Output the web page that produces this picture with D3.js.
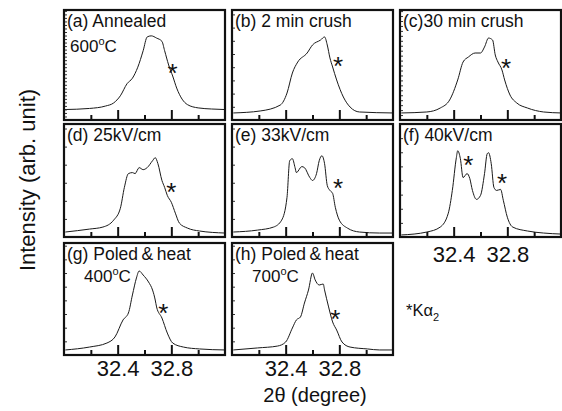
<!DOCTYPE html>
<html><head><meta charset="utf-8">
<script src="https://cdn.jsdelivr.net/npm/d3@7"></script>
<style>body{margin:0;background:#fff}svg{display:block}text{font-family:"Liberation Sans",Arial,sans-serif;fill:#111}</style>
</head><body><svg id="c" width="562" height="411"></svg>
<script>
// ---- data (2theta in degrees, intensity in arb. units 0-100 of panel height) ----
const xDomain = [32.0, 33.2];
const majorTicks = [32.4, 32.8];
const minorTicks = [32.2, 32.6, 33.0];
const panelLabels = ["(a) Annealed", "(b) 2 min crush", "(c)30 min crush", "(d) 25kV/cm", "(e) 33kV/cm", "(f) 40kV/cm", "(g) Poled\u2009&\u2009heat", "(h) Poled\u2009&\u2009heat"];
const panelSubLabels = ["600", null, null, null, null, null, "400", "700"];
const yTickStep = [3.2, 12, 4.5, 16, 16, 12.5, 12.2, 12.2];

const dataA = [[32.00,9.5],[32.19,10.5],[32.31,12.7],[32.37,15.5],[32.42,22],[32.47,33],[32.51,38],[32.55,48],[32.59,63],[32.62,75.5],[32.65,76.5],[32.69,74.5],[32.73,71.5],[32.75,63],[32.78,50],[32.81,40],[32.84,29],[32.88,19],[32.92,14],[33.00,11],[33.10,10],[33.20,9.5]];
const dataB = [[32.01,6.4],[32.21,8.2],[32.36,13.6],[32.41,24.5],[32.45,42.7],[32.49,52.7],[32.56,60.9],[32.60,68.2],[32.66,72.7],[32.69,75.5],[32.71,68.2],[32.73,56.4],[32.75,48.2],[32.78,36.4],[32.83,20.9],[32.88,11.8],[32.95,7.3],[33.20,6.4]];
const dataC = [[32.01,6.4],[32.20,7.3],[32.30,10.9],[32.37,18.2],[32.43,36.4],[32.47,52.7],[32.51,57.3],[32.56,60.9],[32.60,60.9],[32.63,66.4],[32.66,74.5],[32.69,72.7],[32.71,59.1],[32.73,52.7],[32.76,45.5],[32.78,36.4],[32.82,22.7],[32.87,15.5],[32.95,10.9],[33.07,7.3],[33.20,6.4]];
const dataD = [[32.01,4.4],[32.19,7.0],[32.29,8.8],[32.37,14.9],[32.42,25.4],[32.45,43.9],[32.48,56.1],[32.51,57.0],[32.53,56.1],[32.56,61.4],[32.59,59.6],[32.62,61.4],[32.66,67.5],[32.68,70.2],[32.70,64.9],[32.73,50.0],[32.75,43.9],[32.77,36.8],[32.80,30.7],[32.83,21.1],[32.86,12.3],[32.92,7.9],[33.01,5.3],[33.20,3.5]];
const dataE = [[32.01,4.4],[32.19,6.1],[32.31,8.8],[32.37,14.9],[32.41,35.1],[32.43,67.5],[32.45,69.3],[32.47,61.4],[32.48,57.0],[32.52,62.3],[32.54,61.4],[32.58,52.6],[32.60,50.0],[32.63,56.1],[32.65,67.5],[32.67,71.9],[32.69,64.9],[32.71,45.6],[32.73,41.2],[32.75,38.6],[32.77,26.3],[32.80,14.9],[32.86,7.9],[32.95,4.4],[33.10,3.5],[33.20,3.5]];
const dataF = [[32.01,1.8],[32.20,4.4],[32.30,8.8],[32.36,21.1],[32.39,41.2],[32.42,70.2],[32.43,76.3],[32.45,69.3],[32.47,52.6],[32.50,56.1],[32.52,51.8],[32.54,41.2],[32.57,33.3],[32.60,36.8],[32.63,56.1],[32.65,73.7],[32.66,74.6],[32.68,64.9],[32.70,43.9],[32.72,41.2],[32.75,42.1],[32.77,32.5],[32.80,17.5],[32.84,8.8],[32.95,5.3],[33.07,3.5],[33.20,2.6]];
const dataG = [[32.01,4.5],[32.19,7.1],[32.32,10.7],[32.38,16.1],[32.44,31.3],[32.48,37.5],[32.51,53.6],[32.54,68.8],[32.56,75.0],[32.59,71.4],[32.63,65.2],[32.66,58.0],[32.68,49.1],[32.69,42.9],[32.73,33.0],[32.77,19.6],[32.81,10.7],[32.89,7.1],[33.01,5.4],[33.20,4.5]];
const dataH = [[32.01,4.5],[32.19,6.3],[32.34,8.0],[32.40,11.6],[32.45,24.1],[32.48,31.3],[32.51,33.9],[32.54,46.4],[32.57,58.0],[32.60,73.2],[32.62,67.0],[32.65,62.5],[32.68,63.4],[32.69,58.0],[32.72,42.9],[32.75,29.5],[32.78,22.3],[32.82,11.6],[32.88,7.1],[33.01,5.4],[33.10,4.5],[33.20,4.5]];
const panelData = [dataA, dataB, dataC, dataD, dataE, dataF, dataG, dataH];
// K-alpha2 markers (deg, intensity) per panel
const starMarks = [[[32.81,47.3]],[[32.79,53.6]],[[32.79,51.8]],[[32.80,43.9]],[[32.79,48.2]],[[32.51,68.4],[32.76,51.8]],[[32.74,42.0]],[[32.77,36.6]]];
const tickLabelPanels = [5, 6, 7];

// ---- layout ----
const colX = [64, 232, 400];
const panelW = 161;
const rowY = [10, 124, 243];
const rowH = [110, 113, 112];
const tickLabelPad = {5: 9, 6: 5, 7: 5};

const svg = d3.select("#c");

panelData.forEach((data, i) => {
  const col = i % 3, row = Math.floor(i / 3);
  const x0 = colX[col], y0 = rowY[row], h = rowH[row];
  const g = svg.append("g").attr("transform", `translate(${x0},${y0})`);
  const x = d3.scaleLinear().domain(xDomain).range([0, panelW]);
  const y = d3.scaleLinear().domain([0, 100]).range([h, 0]);

  const cid = "clip" + i;
  g.append("clipPath").attr("id", cid).append("rect").attr("width", panelW).attr("height", h);

  g.append("path").datum(data)
    .attr("clip-path", `url(#${cid})`)
    .attr("fill", "none").attr("stroke", "#1a1a1a").attr("stroke-width", 1)
    .attr("d", d3.line().x(d => x(d[0])).y(d => y(d[1])).curve(d3.curveMonotoneX));

  // bottom ticks (inside)
  const axMaj = d3.axisBottom(x).tickValues(majorTicks).tickSizeInner(-10).tickSizeOuter(0).tickFormat("");
  const axMin = d3.axisBottom(x).tickValues(minorTicks).tickSizeInner(-5).tickSizeOuter(0).tickFormat("");
  [axMaj, axMin].forEach(ax => {
    const a = g.append("g").attr("transform", `translate(0,${h})`).call(ax);
    a.select(".domain").remove();
    a.selectAll("line").attr("stroke", "#111").attr("stroke-width", 2);
  });

  // left ticks (inside, small)
  const ax = d3.axisLeft(y).tickValues(d3.range(0, 100.01, yTickStep[i])).tickSizeInner(-3).tickSizeOuter(0).tickFormat("");
  const ay = g.append("g").call(ax);
  ay.select(".domain").remove();
  ay.selectAll("line").attr("stroke", "#333").attr("stroke-width", 1);

  // frame
  g.append("rect").attr("width", panelW).attr("height", h)
    .attr("fill", "none").attr("stroke", "#111").attr("stroke-width", 2.2);

  // label
  g.append("text").attr("x", 3).attr("y", 17).style("font-size", "17.5px").text(panelLabels[i]);
  if (panelSubLabels[i]) {
    const sx = i === 0 ? 6 : 20;
    const sy = i === 0 ? 42 : 39;
    const t = g.append("text").attr("x", sx).attr("y", sy).style("font-size", "17px");
    t.append("tspan").text(panelSubLabels[i]);
    t.append("tspan").attr("dy", -7).style("font-size", "11px").text("o");
    t.append("tspan").attr("dy", 7).text("C");
  }

  // K-alpha2 stars
  starMarks[i].forEach(s => {
    g.append("text").attr("x", x(s[0])).attr("y", y(s[1]) + 14)
      .attr("text-anchor", "middle").style("font-size", "26px").text("*");
  });

  // tick labels under selected panels
  if (tickLabelPanels.includes(i)) {
    const al = g.append("g").attr("transform", `translate(0,${h})`)
      .call(d3.axisBottom(x).tickValues(majorTicks).tickSize(0).tickPadding(tickLabelPad[i]).tickFormat(d3.format(".1f")));
    al.select(".domain").remove();
    al.selectAll("text").style("font-size", "22px").attr("fill", "#111")
      .style("font-family", '"Liberation Sans",Arial,sans-serif');
  }
});

// axis titles
svg.append("text").attr("transform", "translate(35,180) rotate(-90)")
  .attr("text-anchor", "middle").style("font-size", "22px").text("Intensity (arb. unit)");
const xt = svg.append("text").attr("x", 315).attr("y", 402).attr("text-anchor", "middle").style("font-size", "20px");
xt.append("tspan").text("2\u03b8 (degree)");

// K-alpha2 note
const kt = svg.append("text").attr("x", 406).attr("y", 316).style("font-size", "16.5px");
kt.append("tspan").text("*K\u03b1");
kt.append("tspan").attr("dy", 5).style("font-size", "11px").text("2");
</script></body></html>
